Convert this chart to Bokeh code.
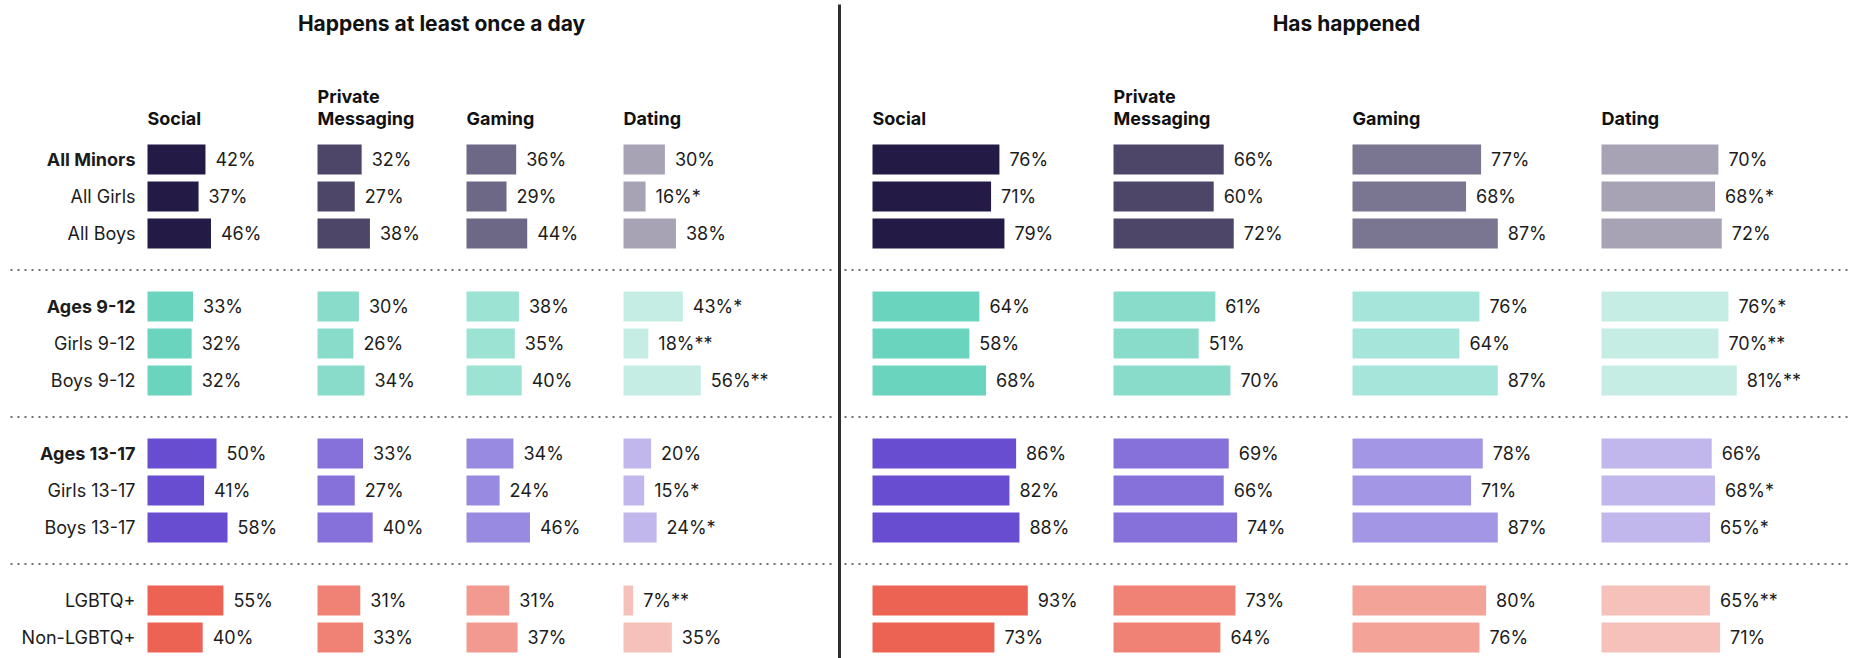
from bokeh.plotting import figure
from bokeh.models import ColumnDataSource, Range1d
from bokeh.embed import file_html
from bokeh.resources import INLINE
from bokeh.core.properties import value

# ---------------- data ----------------
row_labels = ["All Minors", "All Girls", "All Boys",
              "Ages 9-12", "Girls 9-12", "Boys 9-12",
              "Ages 13-17", "Girls 13-17", "Boys 13-17",
              "LGBTQ+", "Non-LGBTQ+"]
row_group = [0, 0, 0, 1, 1, 1, 2, 2, 2, 3, 3]
row_in_group = [0, 1, 2, 0, 1, 2, 0, 1, 2, 0, 1]
bold_rows = ["All Minors", "Ages 9-12", "Ages 13-17"]

platforms = ["Social", "Private Messaging", "Gaming", "Dating"]
panel_titles = ["Happens at least once a day", "Has happened"]

daily_social = [42, 37, 46, 33, 32, 32, 50, 41, 58, 55, 40]
daily_messaging = [32, 27, 38, 30, 26, 34, 33, 27, 40, 31, 33]
daily_gaming = [36, 29, 44, 38, 35, 40, 34, 24, 46, 31, 37]
daily_dating = [30, 16, 38, 43, 18, 56, 20, 15, 24, 7, 35]

ever_social = [76, 71, 79, 64, 58, 68, 86, 82, 88, 93, 73]
ever_messaging = [66, 60, 72, 61, 51, 70, 69, 66, 74, 73, 64]
ever_gaming = [77, 68, 87, 76, 64, 87, 78, 71, 87, 80, 76]
ever_dating = [70, 68, 72, 76, 70, 81, 66, 68, 65, 65, 71]

dating_notes = ["", "*", "", "*", "**", "**", "", "*", "*", "**", ""]
no_notes = [""] * 11

# colours: group (rows) x platform (columns)
colors_daily = [
    ["#231a46", "#4e4668", "#6d6885", "#a7a3b5"],
    ["#6ad4bf", "#89dbca", "#9ce3d4", "#c5ede4"],
    ["#684dd1", "#8671da", "#998ae1", "#c2b7ec"],
    ["#ed6353", "#f08275", "#f29a90", "#f6c1bb"],
]
colors_ever = [
    ["#231a46", "#4e4668", "#7a7590", "#a7a3b5"],
    ["#6ad4bf", "#89dbca", "#a6e5d9", "#c5ede4"],
    ["#684dd1", "#8671da", "#a396e4", "#c2b7ec"],
    ["#ed6353", "#f08275", "#f4a399", "#f6c1bb"],
]

# ---------------- layout ----------------
W, H = 1849, 658
FONT = value("Inter")
TXT = "#1c1c1c"
ROW0, ROW_STEP, GROUP_STEP = 159, 37, 147
BAR_H = 30
LABEL_GAP = 10
TITLE_Y = 23
HEAD_Y1, HEAD_Y2 = 96, 118

row_y = [ROW0 + GROUP_STEP * g + ROW_STEP * k for g, k in zip(row_group, row_in_group)]

panels = [
    dict(title=panel_titles[0], title_x=441,
         values=[daily_social, daily_messaging, daily_gaming, daily_dating],
         notes=[no_notes, no_notes, no_notes, dating_notes],
         colors=colors_daily, col_x=[147, 317, 466, 623], scale=1.38,
         sep=(10, 835)),
    dict(title=panel_titles[1], title_x=1346,
         values=[ever_social, ever_messaging, ever_gaming, ever_dating],
         notes=[no_notes, no_notes, no_notes, dating_notes],
         colors=colors_ever, col_x=[872, 1113, 1352, 1601], scale=1.67,
         sep=(844, 1849)),
]

p = figure(width=W, height=H, output_backend="svg", toolbar_location=None,
           x_range=Range1d(0, W), y_range=Range1d(H, 0),
           min_border=0, outline_line_color=None, background_fill_color="white")
p.axis.visible = False
p.grid.visible = False

# row labels
for lab, y in zip(row_labels, row_y):
    p.text(x=[135], y=[y], text=[lab], text_align="right", text_baseline="middle",
           text_font=FONT, text_font_size="18px", text_color=TXT,
           text_font_style="bold" if lab in bold_rows else "normal")

# separators (dotted)
sep_y = [(row_y[2] + row_y[3]) / 2, (row_y[5] + row_y[6]) / 2, (row_y[8] + row_y[9]) / 2]

for pan in panels:
    # title
    p.text(x=[pan["title_x"]], y=[TITLE_Y], text=[pan["title"]], text_align="center",
           text_baseline="middle", text_font=FONT, text_font_size="21px",
           text_font_style="bold", text_color="#111111")
    for ys in sep_y:
        p.segment(x0=[pan["sep"][0]], y0=[ys], x1=[pan["sep"][1]], y1=[ys],
                  line_color="#6f6f6f", line_width=2, line_dash="2 5")
    for j, plat in enumerate(platforms):
        x0 = pan["col_x"][j]
        # header
        words = plat.split(" ")
        lines = [(words[0], HEAD_Y1), (words[1], HEAD_Y2)] if len(words) == 2 else [(plat, HEAD_Y2)]
        for txt, hy in lines:
            p.text(x=[x0], y=[hy], text=[txt], text_align="left",
                   text_baseline="middle", text_font=FONT, text_font_size="18px",
                   text_font_style="bold", text_color="#111111")
        vals = pan["values"][j]
        right = [x0 + v * pan["scale"] for v in vals]
        src = ColumnDataSource(dict(
            y=row_y,
            left=[x0] * len(vals),
            right=right,
            color=[pan["colors"][g][j] for g in row_group],
            lx=[r + LABEL_GAP for r in right],
            label=[f"{v}%{n}" for v, n in zip(vals, pan["notes"][j])],
        ))
        p.hbar(y="y", left="left", right="right", height=BAR_H, source=src,
               fill_color="color", line_color=None)
        p.text(x="lx", y="y", text="label", source=src, text_align="left",
               text_baseline="middle", text_font=FONT, text_font_size="18px",
               text_color=TXT)

# vertical divider
p.segment(x0=[839], y0=[4], x1=[839], y1=[H + 2], line_color="#2e2e2e", line_width=3)

open("out.html", "w").write(file_html(p, INLINE))
